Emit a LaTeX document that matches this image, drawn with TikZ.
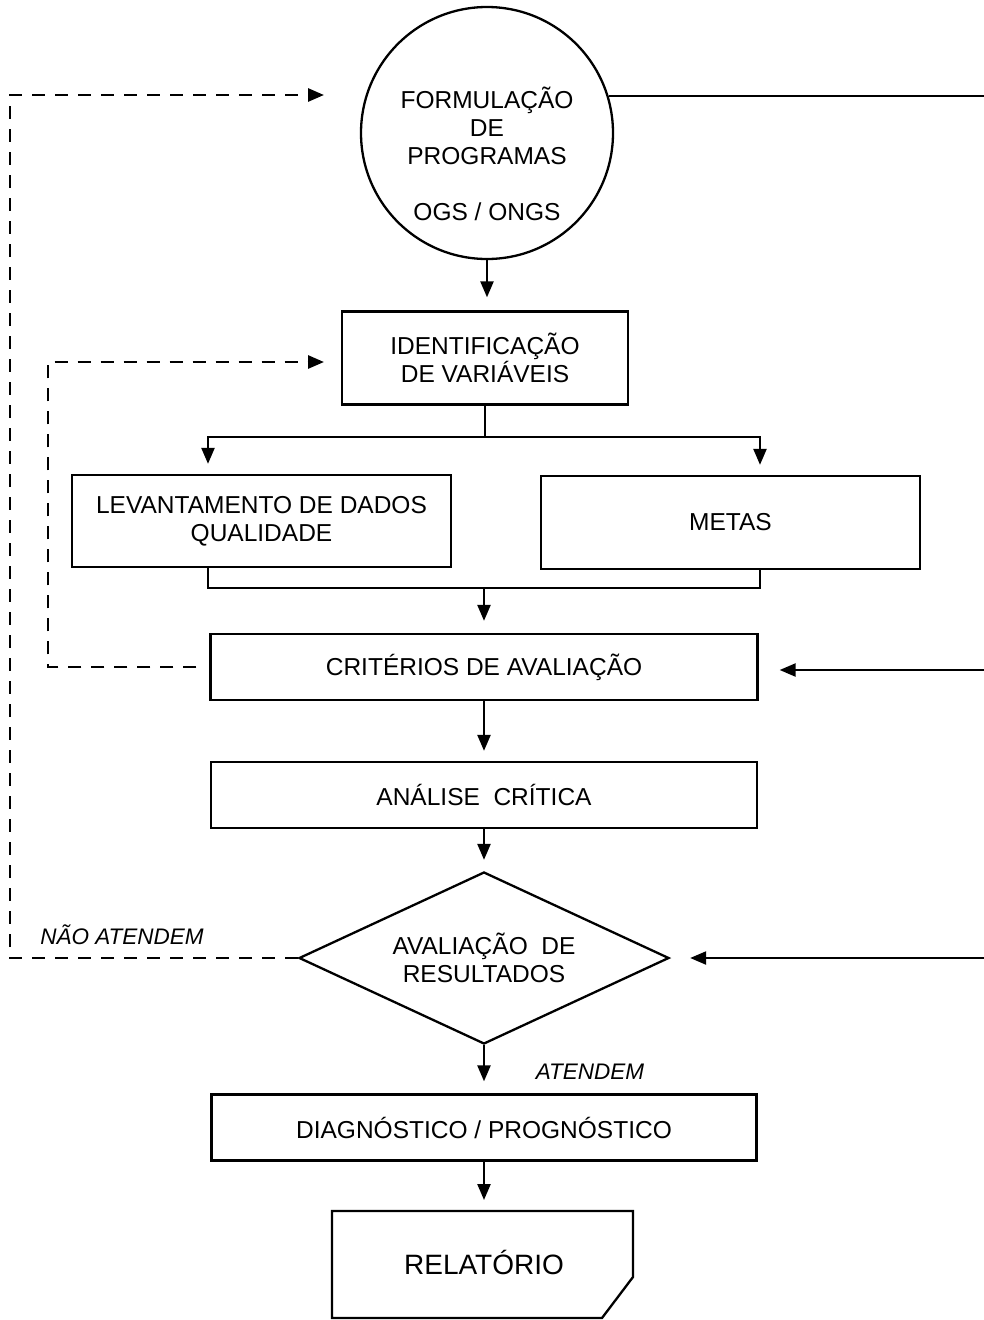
\documentclass[tikz,border=0pt]{standalone}
\usepackage{fontspec}
\setmainfont{Liberation Sans}
\usetikzlibrary{arrows.meta,shapes.geometric}
\begin{document}
\begin{tikzpicture}[x=1pt,y=-1pt,
  every node/.style={font=\fontsize{24.5}{28}\selectfont},
  box/.style={draw,line width=2.3pt,inner sep=0pt,align=center},
  ln/.style={line width=2.3pt},
  tip/.style={-{Triangle[length=16pt,width=13pt]}},
  arr/.style={ln,tip},
  dsh/.style={line width=2.8pt,dash pattern=on 13pt off 10pt},
  lbl/.style={font=\fontsize{22.5}{26}\selectfont\itshape}
]
\useasboundingbox (0,0) rectangle (984,1320);

% nodes
\node[box,circle,minimum size=252pt] (form) at (487,133) {};
\node[align=center] (formt) at (487,154) {FORMULAÇÃO\\DE\\PROGRAMAS\\[28pt]OGS / ONGS};
\node[box,minimum width=286pt,minimum height=93pt] (ident) at (485,358) {IDENTIFICAÇÃO\\DE VARIÁVEIS};
\node[box,minimum width=379pt,minimum height=92pt] (lev) at (261.5,521) {LEVANTAMENTO DE DADOS\\QUALIDADE};
\node[box,minimum width=379pt,minimum height=93pt] (metas) at (730.5,522.5) {METAS};
\node[box,minimum width=547pt,minimum height=66pt] (crit) at (484,667) {CRITÉRIOS DE AVALIAÇÃO};
\node[box,minimum width=546pt,minimum height=66pt] (anal) at (484,795) {ANÁLISE\ \ CRÍTICA};
\node[box,diamond,aspect=2.15,minimum width=370pt,minimum height=172pt] (aval) at (484,958) {AVALIAÇÃO\ \ DE\\RESULTADOS};
\node[box,minimum width=545pt,minimum height=66pt] (diag) at (484,1127.5) {DIAGNÓSTICO / PROGNÓSTICO};

% relatorio (card shape)
\coordinate (r1) at (332,1211);
\coordinate (relatop) at (484,1211);
\coordinate (r2) at (633,1211);
\coordinate (r3) at (633,1277);
\coordinate (r4) at (602,1318);
\coordinate (r5) at (332,1318);
\draw[ln] (r5) -- (r1) -- (r2) -- (r3) -- (r4) -- cycle;
\node (relt) at (484,1262) {\fontsize{28}{32}\selectfont RELATÓRIO};

% labels
\node[lbl] (nao) at (122,935) {NÃO ATENDEM};
\node[lbl] (aten) at (590,1072) {ATENDEM};

% main flow
\draw[arr,shorten >=13pt] (form.south) -- (form.south |- ident.north);
\coordinate (sp) at (485,437);
\coordinate (la) at (208,437);
\coordinate (ma) at (760,437);
\draw[ln] (ident.south) -- (sp);
\draw[arr,shorten >=10pt] (sp) -| (lev.north -| la);
\draw[arr,shorten >=10pt] (sp) -| (metas.north -| ma);
\coordinate (lb) at (208,588);
\coordinate (mb) at (760,588);
\coordinate (mg) at (484,588);
\draw[ln] (lev.south -| lb) -- (lb) -- (mb) -- (metas.south -| mb);
\draw[arr,shorten >=12pt] (mg) -- (crit.north);
\draw[arr,shorten >=10pt] (crit.south) -- (anal.north);
\draw[arr,shorten >=11pt] (anal.south) -- (aval.north);
\draw[arr,shorten >=12pt] (aval.south) -- (diag.north);
\draw[arr,shorten >=11pt] (diag.south) -- (relatop);

% dashed feedback loops
\coordinate (o1) at (10,958);
\coordinate (o2) at (10,95);
\coordinate (o3) at (324,95);
\draw[dsh,tip] (aval.west) -- (o1) -- (o2) -- (o3);
\coordinate (i1) at (48,667);
\coordinate (i2) at (48,362);
\coordinate (i3) at (324,362);
\draw[dsh,tip,shorten <=13pt] (crit.west) -- (i1) -- (i2) -- (i3);

% right side lines
\coordinate (e1) at (984,96);
\coordinate (e2) at (984,670);
\coordinate (e3) at (984,958);
\draw[ln] (form.17) -- (e1 |- form.17);
\draw[arr,shorten >=21pt] (e2) -- (crit.east |- e2);
\draw[arr,shorten >=20pt] (e3) -- (aval.east);
\end{tikzpicture}
\end{document}
